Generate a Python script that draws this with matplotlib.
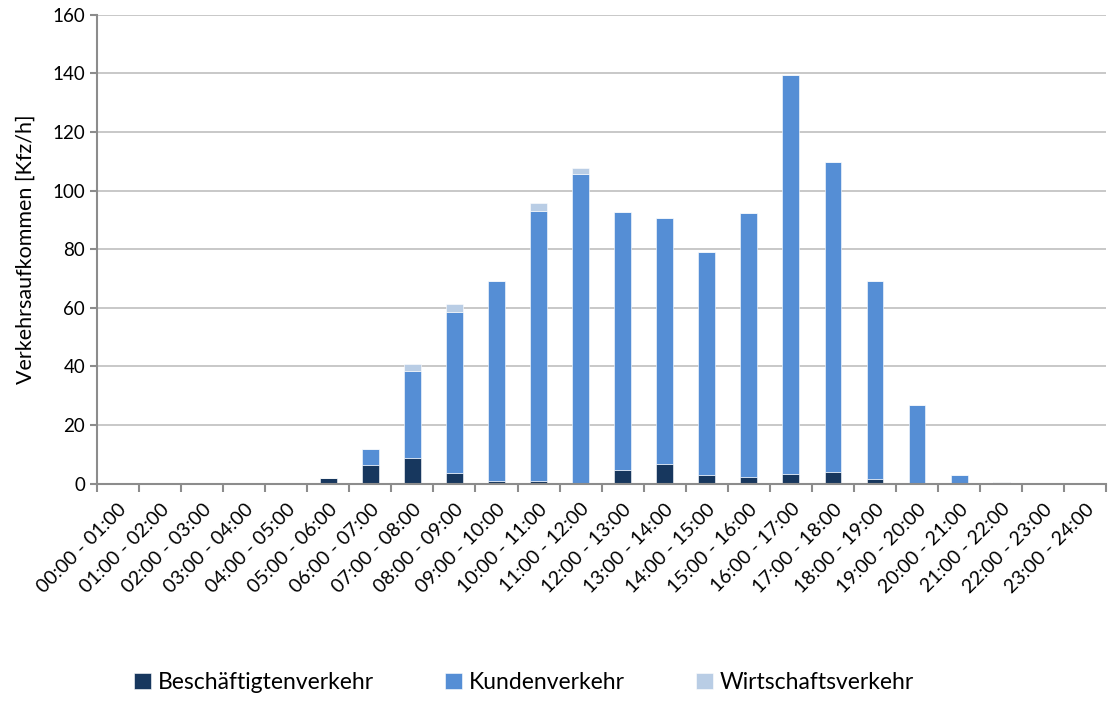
import numpy as np
import matplotlib.pyplot as plt

# Stundenintervalle
hours = ["%02d:00 - %02d:00" % (h, h + 1) for h in range(24)]

# Werte in Kfz/h
beschaeftigte = [0, 0, 0, 0, 0, 2.0, 6.5, 8.9, 3.7, 1.0, 0.8, 0.4,
                 4.8, 6.8, 3.0, 2.3, 3.4, 3.9, 1.7, 0.4, 0.2, 0.5, 0, 0]
kunden = [0, 0, 0, 0, 0, 0, 5.5, 29.7, 55.0, 68.3, 92.4, 105.1,
          88.0, 84.0, 76.2, 90.2, 136.2, 106.0, 67.3, 26.3, 2.9, 0, 0, 0]
wirtschaft = [0, 0, 0, 0, 0, 0, 0, 2.4, 2.7, 0, 2.7, 2.3,
              0, 0, 0, 0, 0, 0, 0, 0, 0, 0, 0.3, 0]

plt.rcParams['font.family'] = ['Lato', 'DejaVu Sans']

fig = plt.figure(figsize=(11.08, 7.01), dpi=100)
ax = fig.add_axes([0.0875, 0.31, 0.911, 0.669])

x = np.arange(len(hours))
b = np.array(beschaeftigte)
k = np.array(kunden)
w = np.array(wirtschaft)
width = 0.4
kw = dict(width=width, edgecolor='white', linewidth=0.4, zorder=3)
ax.bar(x, b, color='#17375E', label='Beschäftigtenverkehr', **kw)
ax.bar(x, k, bottom=b, color='#558ED5', label='Kundenverkehr', **kw)
ax.bar(x, w, bottom=b + k, color='#B9CDE5', label='Wirtschaftsverkehr', **kw)

ax.set_xlim(-0.5, len(hours) - 0.5)
ax.set_ylim(0, 160)
ax.set_yticks(range(0, 161, 20))
ax.grid(axis='y', color='#BFBFBF', linewidth=1.2, zorder=0)

ax.set_xticks(x)
ax.set_xticklabels(hours, rotation=45, ha='right', rotation_mode='anchor', fontsize=14)
ax.set_xticks(np.arange(-0.5, len(hours), 1), minor=True)
ax.tick_params(axis='x', which='major', length=0, pad=12)
ax.tick_params(axis='x', which='minor', length=6, width=1.5, color='#8C8C8C')
ax.tick_params(axis='y', length=5, width=1.5, color='#8C8C8C', labelsize=13.5)

for s in ['top', 'right']:
    ax.spines[s].set_visible(False)
for s in ['left', 'bottom']:
    ax.spines[s].set_color('#8C8C8C')
    ax.spines[s].set_linewidth(1.5)
ax.spines['bottom'].set_zorder(4)

ax.set_ylabel('Verkehrsaufkommen [Kfz/h]', fontsize=15.5, labelpad=12)

fig.legend(loc='lower left', bbox_to_anchor=(0.102, -0.018), ncol=3, frameon=False,
           fontsize=16.5, handlelength=0.75, handleheight=0.75, handletextpad=0.3,
           columnspacing=3.1)

fig.savefig('out.png', dpi=100)
